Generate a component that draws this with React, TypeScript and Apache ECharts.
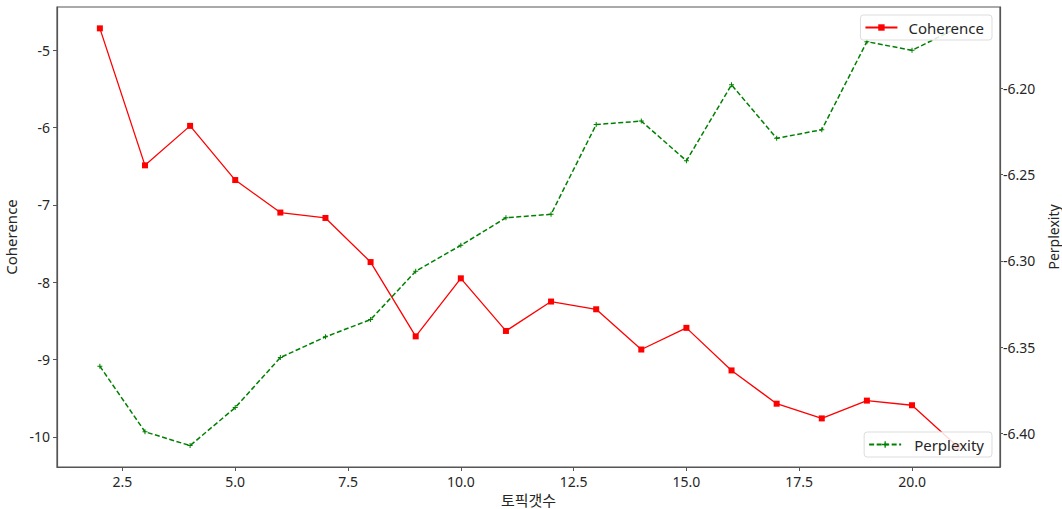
import React, { useEffect, useRef } from "react";
import * as echarts from "echarts";

const topics = [2, 3, 4, 5, 6, 7, 8, 9, 10, 11, 12, 13, 14, 15, 16, 17, 18, 19, 20, 21];
const coherence = [-4.72, -6.49, -5.98, -6.68, -7.10, -7.17, -7.74, -8.70, -7.95, -8.63, -8.25, -8.35, -8.87, -8.59, -9.14, -9.57, -9.76, -9.53, -9.59, -10.12];
const perplexity = [-6.361, -6.399, -6.407, -6.385, -6.356, -6.344, -6.334, -6.306, -6.291, -6.275, -6.273, -6.221, -6.219, -6.242, -6.198, -6.229, -6.224, -6.173, -6.178, -6.165];
const xTicks = [2.5, 5, 7.5, 10, 12.5, 15, 17.5, 20];
const leftTicks = [-10, -9, -8, -7, -6, -5];
const rightTicks = [-6.4, -6.35, -6.3, -6.25, -6.2];

const FONT = "'Noto Sans', 'Noto Sans CJK KR', sans-serif";
const TXT = "#262626";
const FRAME = "#555555";
const PLUS = "path://M4,0h2v4h4v2h-4v4h-2v-4h-4v-2h4z";

export default function App() {
  const ref = useRef<HTMLDivElement>(null);
  useEffect(() => {
    if (!ref.current) return;
    const chart = echarts.init(ref.current, undefined, { renderer: "svg" });
    const axisLine = { show: true, lineStyle: { color: FRAME, width: 1.2 } };
    const label = { color: TXT, fontSize: 14, fontFamily: FONT };
    chart.setOption({
      animation: false,
      backgroundColor: "#ffffff",
      grid: {
        left: 57, right: 62, top: 7, bottom: 42,
        containLabel: false, outerBoundsMode: "none",
        show: true, borderColor: FRAME, borderWidth: 1.2, backgroundColor: "transparent",
      },
      legend: [
        {
          data: ["Coherence"], right: 70, top: 15,
          backgroundColor: "rgba(255,255,255,0.85)", borderColor: "#dddddd", borderWidth: 1, borderRadius: 3,
          padding: [5, 8, 5, 4], itemWidth: 32, itemHeight: 8,
          textStyle: { ...label, fontSize: 15, padding: [0, 0, 0, 6] },
        },
        {
          data: ["Perplexity"], right: 70, top: 432,
          backgroundColor: "rgba(255,255,255,0.85)", borderColor: "#dddddd", borderWidth: 1, borderRadius: 3,
          padding: [5, 8, 5, 4], itemWidth: 32, itemHeight: 8,
          textStyle: { ...label, fontSize: 15, padding: [0, 0, 0, 8] },
        },
      ],
      xAxis: {
        type: "value", min: 1.05, max: 21.95,
        name: "토픽갯수", nameLocation: "middle", nameGap: 17,
        nameTextStyle: { ...label, fontSize: 15 },
        axisLine,
        splitLine: { show: false },
        axisTick: { show: true, length: 4, customValues: xTicks, lineStyle: { color: FRAME } },
        axisLabel: { ...label, margin: 7, customValues: xTicks, formatter: (v: number) => v.toFixed(1) },
      },
      yAxis: [
        {
          type: "value", min: -10.388, max: -4.444, position: "left",
          name: "Coherence", nameLocation: "middle", nameGap: 31, nameRotate: 90,
          nameTextStyle: { ...label, fontSize: 15 },
          axisLine,
          splitLine: { show: false },
          axisTick: { show: true, length: 4, customValues: leftTicks, lineStyle: { color: FRAME } },
          axisLabel: { ...label, margin: 7, customValues: leftTicks, formatter: (v: number) => String(v) },
        },
        {
          type: "value", min: -6.4194, max: -6.1529, position: "right",
          name: "Perplexity", nameLocation: "middle", nameGap: 33, nameRotate: 90,
          nameTextStyle: { ...label, fontSize: 14 },
          axisLine,
          splitLine: { show: false },
          alignTicks: false,
          axisTick: { show: true, length: 3, customValues: rightTicks, lineStyle: { color: FRAME } },
          axisLabel: { ...label, margin: 3, customValues: rightTicks, formatter: (v: number) => v.toFixed(2) },
        },
      ],
      series: [
        {
          name: "Coherence", type: "line", yAxisIndex: 0,
          data: topics.map((t, i) => [t, coherence[i]]),
          symbol: "rect", symbolSize: 6,
          itemStyle: { color: "#ff0000" },
          lineStyle: { color: "#ff0000", width: 1.3 },
        },
        {
          name: "Perplexity", type: "line", yAxisIndex: 1,
          data: topics.map((t, i) => [t, perplexity[i]]),
          symbol: PLUS, symbolSize: 5,
          itemStyle: { color: "#008000" },
          lineStyle: { color: "#008000", width: 1.5, type: [5, 2.5] },
        },
      ],
    });
    return () => chart.dispose();
  }, []);
  return <div ref={ref} style={{ position: "fixed", left: 0, top: 0, width: 1062, height: 509 }} />;
}
